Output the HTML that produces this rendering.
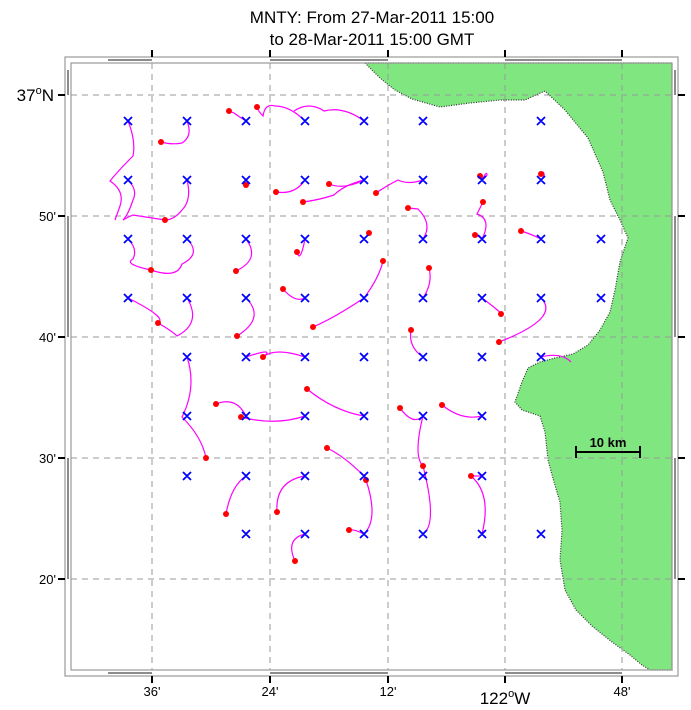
<!DOCTYPE html>
<html><head><meta charset="utf-8"><style>
body{margin:0;background:#fff;width:691px;height:710px;overflow:hidden}
svg{display:block}
text{font-family:"Liberation Sans",sans-serif;fill:#000}
</style></head><body>
<svg width="691" height="710" viewBox="0 0 691 710">
<text x="372" y="23" font-size="17" text-anchor="middle">MNTY: From 27-Mar-2011 15:00</text>
<text x="372" y="45" font-size="17" text-anchor="middle">to 28-Mar-2011 15:00 GMT</text>
<!-- land -->
<path d="M365,63 L380,78 L395,90 L412,99 L440,107 L470,103 L500,100 L525,100 L545,91 L565,110 L588,138 L603,172 L610,200 L620,220 L628,238 L620,262 L615,290 L610,312 L600,330 L588,345 L573,354 L555,358 L540,362 L528,368 L522,382 L515,402 L522,410 L540,416 L545,432 L548,460 L554,482 L560,502 L562,530 L560,560 L565,590 L576,610 L592,626 L612,642 L630,655 L642,665 L650,670 L672,670 L672,63 Z" fill="#80e680" stroke="#333" stroke-width="1.2" stroke-dasharray="1,1.5"/>
<!-- grid -->
<g stroke="#999" stroke-width="1" stroke-dasharray="6,5">
<line x1="152" y1="63" x2="152" y2="670"/><line x1="270" y1="63" x2="270" y2="670"/><line x1="388" y1="63" x2="388" y2="670"/><line x1="505" y1="63" x2="505" y2="670"/><line x1="622" y1="63" x2="622" y2="670"/>
<line x1="71" y1="95" x2="672" y2="95"/><line x1="71" y1="216" x2="672" y2="216"/><line x1="71" y1="337" x2="672" y2="337"/><line x1="71" y1="458" x2="672" y2="458"/><line x1="71" y1="579" x2="672" y2="579"/>
</g>
<!-- frame -->
<rect x="65" y="57" width="613" height="619" fill="none" stroke="#999" stroke-width="1.2"/>
<rect x="71" y="63" width="601" height="607" fill="none" stroke="#999" stroke-width="1.2"/>
<g stroke="#666" stroke-width="1.5">
<line x1="108" y1="60" x2="152" y2="60"/><line x1="270" y1="60" x2="388" y2="60"/><line x1="505" y1="60" x2="622" y2="60"/>
<line x1="108" y1="673" x2="152" y2="673"/><line x1="270" y1="673" x2="388" y2="673"/><line x1="505" y1="673" x2="622" y2="673"/>
<line x1="68" y1="95" x2="68" y2="70"/><line x1="68" y1="216" x2="68" y2="337"/><line x1="68" y1="458" x2="68" y2="579"/>
<line x1="675" y1="95" x2="675" y2="70"/><line x1="675" y1="216" x2="675" y2="337"/><line x1="675" y1="458" x2="675" y2="579"/>
</g>
<g stroke="#000" stroke-width="2">
<line x1="152" y1="50" x2="152" y2="57"/><line x1="270" y1="50" x2="270" y2="57"/><line x1="388" y1="50" x2="388" y2="57"/><line x1="505" y1="50" x2="505" y2="57"/><line x1="622" y1="50" x2="622" y2="57"/>
<line x1="152" y1="676" x2="152" y2="683"/><line x1="270" y1="676" x2="270" y2="683"/><line x1="388" y1="676" x2="388" y2="683"/><line x1="505" y1="676" x2="505" y2="683"/><line x1="622" y1="676" x2="622" y2="683"/>
<line x1="58" y1="95" x2="65" y2="95"/><line x1="58" y1="216" x2="65" y2="216"/><line x1="58" y1="337" x2="65" y2="337"/><line x1="58" y1="458" x2="65" y2="458"/><line x1="58" y1="579" x2="65" y2="579"/>
<line x1="678" y1="95" x2="685" y2="95"/><line x1="678" y1="216" x2="685" y2="216"/><line x1="678" y1="337" x2="685" y2="337"/><line x1="678" y1="458" x2="685" y2="458"/><line x1="678" y1="579" x2="685" y2="579"/>
</g>
<!-- labels -->
<text x="54" y="101" font-size="17" text-anchor="end">37<tspan font-size="11" dy="-7">o</tspan><tspan dy="7">N</tspan></text>
<g font-size="13" text-anchor="end">
<text x="56" y="221">50'</text><text x="56" y="342">40'</text><text x="56" y="463">30'</text><text x="56" y="584">20'</text>
</g>
<g font-size="13" text-anchor="middle">
<text x="152" y="696">36'</text><text x="270" y="696">24'</text><text x="388" y="696">12'</text><text x="622" y="696">48'</text>
</g>
<text x="505" y="704" font-size="17" text-anchor="middle">122<tspan font-size="11" dy="-7">o</tspan><tspan dy="7">W</tspan></text>
<!-- scale bar -->
<g stroke="#000" stroke-width="2"><line x1="576" y1="452" x2="640" y2="452"/><line x1="576" y1="446" x2="576" y2="458"/><line x1="640" y1="446" x2="640" y2="458"/></g>
<text x="608" y="447" font-size="13" font-weight="bold" text-anchor="middle">10 km</text>
<!-- trajectories -->
<g fill="none" stroke="#f0f" stroke-width="1.2">
<path d="M128,121 q8,20 5,35 q-15,15 -23,25 q15,10 10,25 l-5,14"/>
<path d="M187,121 q6,15 -5,22 q-10,2 -21,-1"/>
<path d="M246,121 q-8,-5 -12,-8 l-5,-2"/>
<path d="M305,121 q-15,-15 -30,-15 q-10,-3 -12,10 q-5,-5 -6,-9"/>
<path d="M364,121 q-20,-15 -40,-10 q-15,-10 -30,0"/>
<path d="M128,180 q10,10 5,20 q-5,15 -10,20 q5,-3 10,-5 l32,5"/>
<path d="M187,180 q5,20 -5,30 q-8,10 -17,10"/>
<path d="M246,180 q-5,3 0,5"/>
<path d="M305,180 q-10,15 -29,12"/>
<path d="M364,180 q-20,10 -35,4"/>
<path d="M423,180 q-15,5 -25,0 q-10,5 -22,13"/>
<path d="M482,180 q5,-10 5,-5 q-3,5 -7,1"/>
<path d="M541,180 q5,-5 2,-8 q-5,2 -2,2"/>
<path d="M364,180 q-20,5 -30,15 q-15,5 -31,7"/>
<path d="M423,239 q10,-15 -5,-30 l-10,-1"/>
<path d="M482,239 q10,-20 -5,-25 q5,-10 6,-12"/>
<path d="M541,239 q-10,-5 -20,-8"/>
<path d="M482,239 q-3,-3 -7,-4"/>
<path d="M364,239 q5,-5 5,-6"/>
<path d="M305,239 q-5,25 -8,13"/>
<path d="M128,239 q10,10 5,20 q-10,5 18,11"/>
<path d="M187,239 q15,15 -5,25 q-5,15 -31,6"/>
<path d="M246,239 q15,20 -10,32"/>
<path d="M364,298 q15,-20 19,-37"/>
<path d="M423,298 q10,-15 6,-30"/>
<path d="M305,298 q-10,5 -22,-9"/>
<path d="M128,298 q40,20 30,25"/>
<path d="M187,298 q15,25 -10,38 q-5,-5 -19,-13"/>
<path d="M246,298 q20,20 -9,38"/>
<path d="M364,298 q-30,20 -51,29"/>
<path d="M423,357 q-15,-10 -12,-27"/>
<path d="M482,298 q20,15 19,16"/>
<path d="M541,298 q20,20 -42,44"/>
<path d="M541,357 q20,-5 30,5"/>
<path d="M187,357 q10,30 -5,60 q20,20 24,41"/>
<path d="M246,357 q30,-10 17,0"/>
<path d="M305,357 q-30,-10 -42,0"/>
<path d="M246,416 q-10,-20 -30,-12"/>
<path d="M305,416 q-30,10 -64,1"/>
<path d="M364,416 q-30,-5 -57,-27"/>
<path d="M423,416 q-10,10 -23,-8"/>
<path d="M482,416 q-20,5 -40,-11"/>
<path d="M246,476 q-15,10 -20,38"/>
<path d="M305,476 q-30,5 -28,36"/>
<path d="M364,476 q-20,-20 -37,-28"/>
<path d="M423,416 q-10,40 0,50"/>
<path d="M364,534 q15,-15 2,-54"/>
<path d="M482,476 q-5,0 -11,0"/>
<path d="M423,534 q15,-10 0,-68"/>
<path d="M305,534 q-20,5 -10,27"/>
<path d="M364,534 q-10,-5 -15,-4"/>
<path d="M482,534 q10,-40 -11,-58"/>
</g>
<g fill="#f00">
<circle cx="161" cy="142" r="3"/><circle cx="229" cy="111" r="3"/><circle cx="257" cy="107" r="3"/><circle cx="165" cy="220" r="3"/><circle cx="246" cy="185" r="3"/><circle cx="276" cy="192" r="3"/><circle cx="303" cy="202" r="3"/><circle cx="329" cy="184" r="3"/><circle cx="376" cy="193" r="3"/><circle cx="408" cy="208" r="3"/><circle cx="480" cy="176" r="3"/><circle cx="541" cy="174" r="3"/><circle cx="483" cy="202" r="3"/><circle cx="521" cy="231" r="3"/><circle cx="475" cy="235" r="3"/><circle cx="369" cy="233" r="3"/><circle cx="297" cy="252" r="3"/><circle cx="151" cy="270" r="3"/><circle cx="236" cy="271" r="3"/><circle cx="383" cy="261" r="3"/><circle cx="429" cy="268" r="3"/><circle cx="283" cy="289" r="3"/><circle cx="158" cy="323" r="3"/><circle cx="237" cy="336" r="3"/><circle cx="313" cy="327" r="3"/><circle cx="411" cy="330" r="3"/><circle cx="501" cy="314" r="3"/><circle cx="499" cy="342" r="3"/><circle cx="263" cy="357" r="3"/><circle cx="216" cy="404" r="3"/><circle cx="241" cy="417" r="3"/><circle cx="307" cy="389" r="3"/><circle cx="400" cy="408" r="3"/><circle cx="442" cy="405" r="3"/><circle cx="206" cy="458" r="3"/><circle cx="327" cy="448" r="3"/><circle cx="423" cy="466" r="3"/><circle cx="366" cy="480" r="3"/><circle cx="471" cy="476" r="3"/><circle cx="226" cy="514" r="3"/><circle cx="277" cy="512" r="3"/><circle cx="349" cy="530" r="3"/><circle cx="295" cy="561" r="3"/>
</g>
<!-- X markers -->
<g font-size="15" fill="#00f" text-anchor="middle" style="font-family:'DejaVu Sans',sans-serif">
</g>
<g stroke="#00f" stroke-width="1.8" id="xs">
<path d="M124,117l8,8m0,-8l-8,8 M183,117l8,8m0,-8l-8,8 M242,117l8,8m0,-8l-8,8 M301,117l8,8m0,-8l-8,8 M360,117l8,8m0,-8l-8,8 M419,117l8,8m0,-8l-8,8 M537,117l8,8m0,-8l-8,8
M124,176l8,8m0,-8l-8,8 M183,176l8,8m0,-8l-8,8 M242,176l8,8m0,-8l-8,8 M301,176l8,8m0,-8l-8,8 M360,176l8,8m0,-8l-8,8 M419,176l8,8m0,-8l-8,8 M478,176l8,8m0,-8l-8,8 M537,176l8,8m0,-8l-8,8
M124,235l8,8m0,-8l-8,8 M183,235l8,8m0,-8l-8,8 M242,235l8,8m0,-8l-8,8 M301,235l8,8m0,-8l-8,8 M360,235l8,8m0,-8l-8,8 M419,235l8,8m0,-8l-8,8 M478,235l8,8m0,-8l-8,8 M537,235l8,8m0,-8l-8,8 M597,235l8,8m0,-8l-8,8
M124,294l8,8m0,-8l-8,8 M183,294l8,8m0,-8l-8,8 M242,294l8,8m0,-8l-8,8 M301,294l8,8m0,-8l-8,8 M360,294l8,8m0,-8l-8,8 M419,294l8,8m0,-8l-8,8 M478,294l8,8m0,-8l-8,8 M537,294l8,8m0,-8l-8,8 M597,294l8,8m0,-8l-8,8
M183,353l8,8m0,-8l-8,8 M242,353l8,8m0,-8l-8,8 M301,353l8,8m0,-8l-8,8 M360,353l8,8m0,-8l-8,8 M419,353l8,8m0,-8l-8,8 M478,353l8,8m0,-8l-8,8 M537,353l8,8m0,-8l-8,8
M183,412l8,8m0,-8l-8,8 M242,412l8,8m0,-8l-8,8 M301,412l8,8m0,-8l-8,8 M360,412l8,8m0,-8l-8,8 M419,412l8,8m0,-8l-8,8 M478,412l8,8m0,-8l-8,8
M183,472l8,8m0,-8l-8,8 M242,472l8,8m0,-8l-8,8 M301,472l8,8m0,-8l-8,8 M360,472l8,8m0,-8l-8,8 M419,472l8,8m0,-8l-8,8 M478,472l8,8m0,-8l-8,8
M242,530l8,8m0,-8l-8,8 M301,530l8,8m0,-8l-8,8 M360,530l8,8m0,-8l-8,8 M419,530l8,8m0,-8l-8,8 M478,530l8,8m0,-8l-8,8 M537,530l8,8m0,-8l-8,8"/>
</g>
</svg>
</body></html>
